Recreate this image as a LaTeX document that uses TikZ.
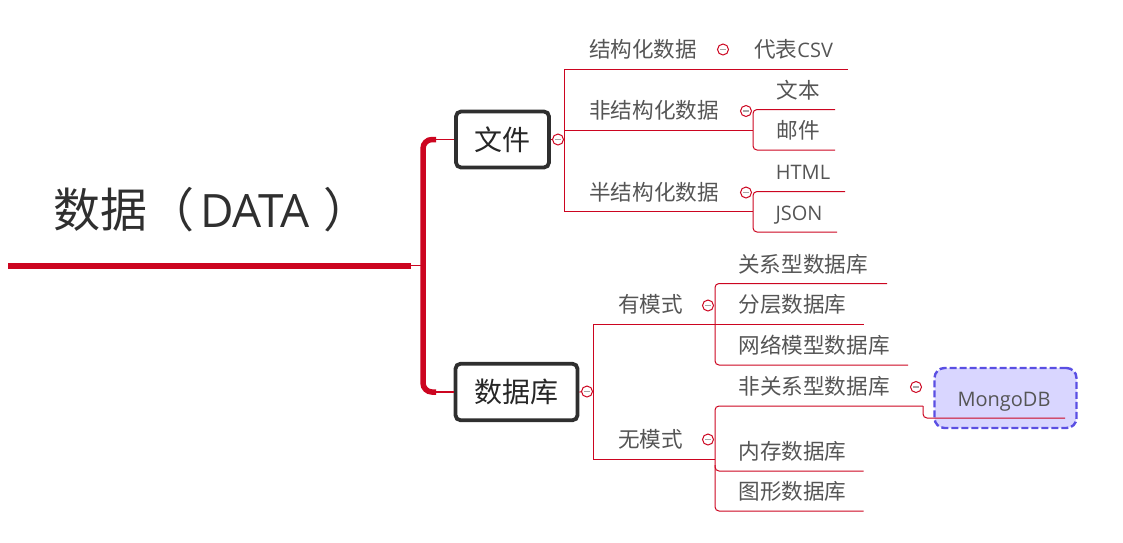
\documentclass[tikz,border=0pt]{standalone}
\usepackage{fontspec}
\setmainfont{Noto Sans CJK SC}
\newfontfamily\latinf{Open Sans}
\definecolor{mapred}{HTML}{CC0520}
\definecolor{mapgrey}{HTML}{555555}
\definecolor{mapdark}{HTML}{2F2F2F}
\definecolor{mapfill}{HTML}{D9D6FF}
\definecolor{mapblue}{HTML}{5A4FE3}
\tikzset{
  x=1pt,y=-1pt,
  roottext/.style={inner sep=0pt,text=mapdark,font=\fontsize{47}{50}\selectfont},
  topicbox/.style={draw=mapdark,line width=3.8pt,rounded corners=5pt,fill=white,inner sep=0pt,text=black!85,font=\fontsize{28}{32}\selectfont},
  leaf/.style={inner sep=0pt,text=mapgrey,font=\fontsize{21.6}{24}\selectfont},
  latinleaf/.style={inner sep=0pt,text=mapgrey,font=\fontsize{20}{24}\latinf},
  branch/.style={draw=mapred,line width=1pt,rounded corners=4pt},
  sq/.style={draw=mapred,line width=1pt},
  collapse/.style={circle,draw=mapred,line width=1pt,fill=white,minimum size=11pt,inner sep=0pt,
    path picture={\draw[black!35,line width=1.2pt] ([xshift=-3pt]path picture bounding box.center) -- ([xshift=3pt]path picture bounding box.center);}},
}
\begin{document}
\begin{tikzpicture}
\useasboundingbox (0,0) rectangle (1123,542);
% root
\node[roottext,anchor=west] (root) at (53,209.5) {数据（\hspace{6pt}{\fontsize{46}{50}\latinf DATA}\hspace{13pt}）};
\coordinate (rootL) at (8,265.5);
\coordinate (rootR) at (411,265.5);
\coordinate (trunk) at (423,265.5);
\draw[draw=mapred,line width=6pt] (rootL) -- (rootR);
\draw[sq] (rootR) -- (trunk);
% top-level boxes
\node[topicbox,minimum width=93pt,minimum height=56pt] (file) at (502.5,139.5) {文件};
\node[topicbox,minimum width=122pt,minimum height=56.5pt] (db) at (516.5,392) {数据库};
\draw[draw=mapred,line width=5.5pt,rounded corners=9pt] (file.west -| 436,139) -| (trunk) |- (db.west -| 436,391);
\draw[draw=mapred,line width=1.2pt] (436,139.5) -- (file.west);
\draw[draw=mapred,line width=1.2pt] (436,392) -- (db.west);
% file branches
\node[collapse] (cf) at (558,139.5) {};
\draw[sq] (file.east) -- (cf);
\coordinate (fv) at (564.7,139.5);
\draw[sq] (cf) -- (fv);
\coordinate (f1e) at (848,69);
\coordinate (f2e) at (753,130);
\coordinate (f3e) at (753,211.5);
\draw[sq] (f1e) -- (fv |- f1e) -- (fv |- f3e) -- (f3e);
\draw[sq] (fv |- f2e) -- (f2e);
\node[leaf] (t1) at (643,49.3) {结构化数据};
\node[collapse] (c1) at (723,49.5) {};
\node[leaf,anchor=west] (t1a) at (754,49.3) {代表{\fontsize{20}{24}\latinf CSV}};
\node[leaf] (t2) at (654,110.3) {非结构化数据};
\node[collapse] (c2) at (746,111) {};
\node[leaf] (t2a) at (798,90.3) {文本};
\node[leaf] (t2b) at (798,130.3) {邮件};
\coordinate (a1) at (835,109.5);
\coordinate (a2) at (835,150);
\draw[branch] (a1) -| (f2e) |- (a2);
\node[leaf] (t3) at (654,192.3) {半结构化数据};
\node[collapse] (c3) at (746,192.5) {};
\node[latinleaf] (t3a) at (803,172) {HTML};
\node[latinleaf] (t3b) at (799,215) {JSON};
\coordinate (b1) at (845,191.5);
\coordinate (b2) at (837,232);
\draw[branch] (b1) -| (f3e) |- (b2);
% database branches
\node[collapse] (cd) at (587,391.5) {};
\draw[sq] (db.east) -- (cd);
\coordinate (dv) at (593.5,391.5);
\draw[sq] (cd) -- (dv);
\coordinate (d1) at (863.5,324.5);
\coordinate (d2) at (715,459);
\draw[sq] (d1) -- (dv |- d1) -- (dv |- d2) -- (d2);
\node[leaf] (u1) at (650.5,304.3) {有模式};
\node[collapse] (c4) at (708,305.5) {};
\node[leaf] (u1a) at (803,264.3) {关系型数据库};
\node[leaf] (u1b) at (792.5,304.3) {分层数据库};
\node[leaf] (u1c) at (814,345.3) {网络模型数据库};
\coordinate (e1) at (887,283.5);
\coordinate (e2) at (908,365);
\draw[branch] (e1) -| (715,324) |- (e2);
\node[leaf] (u2) at (650.5,439.3) {无模式};
\node[collapse] (c5) at (708,439.5) {};
\node[leaf] (u2a) at (814,386.3) {非关系型数据库};
\node[collapse] (c6) at (916,387) {};
\node[leaf] (u2b) at (792.5,451.3) {内存数据库};
\node[leaf] (u2c) at (792.5,491.3) {图形数据库};
\node[draw=mapblue,line width=2.4pt,dash pattern=on 7pt off 3pt,fill=mapfill,rounded corners=10pt,minimum width=142pt,minimum height=60pt,inner sep=0pt] (mongo) at (1005.5,398) {};
\node[latinleaf] (mongot) at (1004,402) {MongoDB};
\coordinate (g0) at (923,406);
\coordinate (g1) at (1065,418);
\coordinate (g2) at (863.5,471);
\coordinate (g3) at (863.5,511);
\draw[branch] (g0) -| (d2) |- (g3);
\draw[branch] (715,465) |- (g2);
\draw[branch] (g0) |- (g1);
\end{tikzpicture}
\end{document}
